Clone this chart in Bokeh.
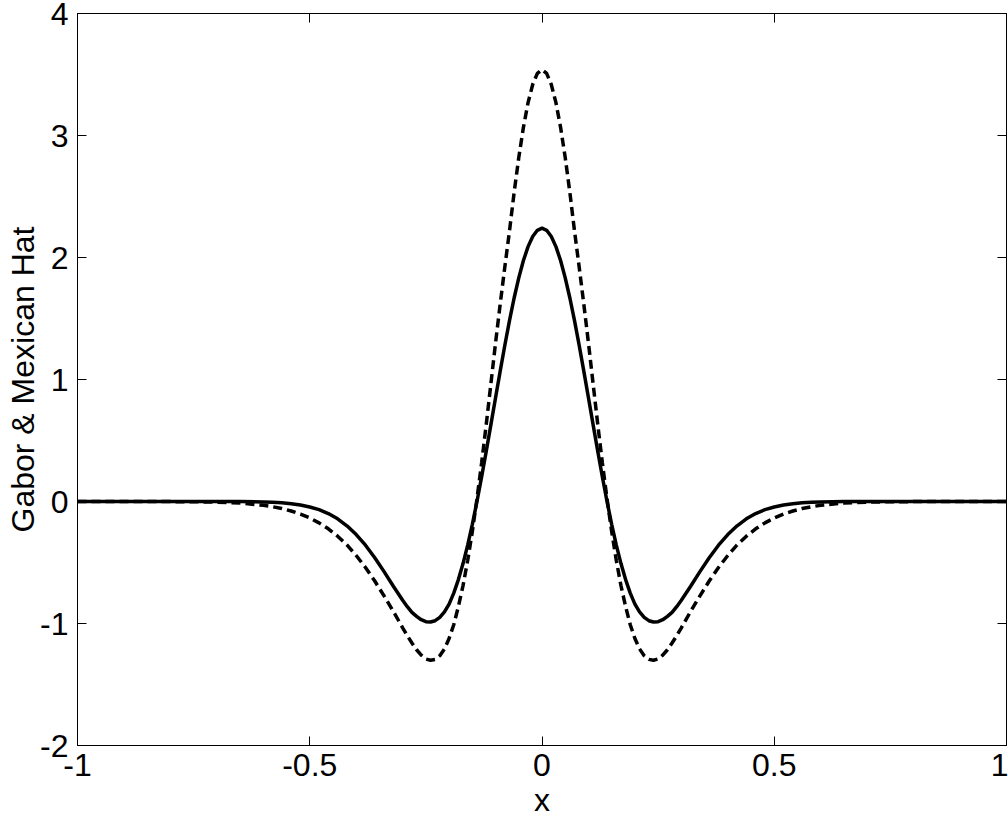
from bokeh.plotting import figure
from bokeh.models import Range1d, LinearAxis, FixedTicker
from bokeh.embed import file_html
from bokeh.resources import INLINE

# ---- data ----
x_vals = [
    -1.00, -0.90, -0.80, -0.75, -0.70, -0.65,
    -0.60, -0.58, -0.56, -0.54, -0.52, -0.50, -0.48, -0.46, -0.44, -0.42,
    -0.40, -0.38, -0.36, -0.34, -0.32,
    -0.30, -0.29, -0.28, -0.27, -0.26, -0.25, -0.24, -0.23, -0.22, -0.21,
    -0.20, -0.19, -0.18, -0.17, -0.16, -0.15, -0.14, -0.13, -0.12, -0.11,
    -0.10, -0.09, -0.08, -0.07, -0.06, -0.05, -0.04, -0.03, -0.02, -0.01,
    0.00,
    0.01, 0.02, 0.03, 0.04, 0.05, 0.06, 0.07, 0.08, 0.09, 0.10,
    0.11, 0.12, 0.13, 0.14, 0.15, 0.16, 0.17, 0.18, 0.19, 0.20,
    0.21, 0.22, 0.23, 0.24, 0.25, 0.26, 0.27, 0.28, 0.29, 0.30,
    0.32, 0.34, 0.36, 0.38, 0.40,
    0.42, 0.44, 0.46, 0.48, 0.50, 0.52, 0.54, 0.56, 0.58, 0.60,
    0.65, 0.70, 0.75, 0.80, 0.90, 1.00,
]

mexican_hat = [
    0.000, 0.000, 0.000, 0.000, 0.000, -0.001,
    -0.004, -0.007, -0.011, -0.018, -0.029, -0.045, -0.067, -0.099, -0.142, -0.199,
    -0.271, -0.358, -0.461, -0.575, -0.695,
    -0.810, -0.862, -0.909, -0.942, -0.969, -0.985, -0.988, -0.977, -0.950, -0.905,
    -0.841, -0.751, -0.640, -0.509, -0.357, -0.187, 0.000, 0.201, 0.412, 0.630,
    0.850, 1.069, 1.281, 1.483, 1.668, 1.833, 1.975, 2.089, 2.172, 2.223,
    2.240,
    2.223, 2.172, 2.089, 1.975, 1.833, 1.668, 1.483, 1.281, 1.069, 0.850,
    0.630, 0.412, 0.201, 0.000, -0.187, -0.357, -0.509, -0.640, -0.751, -0.841,
    -0.905, -0.950, -0.977, -0.988, -0.985, -0.969, -0.942, -0.909, -0.862, -0.810,
    -0.695, -0.575, -0.461, -0.358, -0.271,
    -0.199, -0.142, -0.099, -0.067, -0.045, -0.029, -0.018, -0.011, -0.007, -0.004,
    -0.001, 0.000, 0.000, 0.000, 0.000, 0.000,
]

gabor = [
    0.000, 0.000, -0.001, -0.002, -0.005, -0.013,
    -0.031, -0.043, -0.058, -0.078, -0.103, -0.135, -0.175, -0.224, -0.284, -0.356,
    -0.443, -0.541, -0.652, -0.774, -0.901,
    -1.035, -1.100, -1.160, -1.215, -1.259, -1.291, -1.301, -1.294, -1.264, -1.208,
    -1.123, -1.010, -0.861, -0.689, -0.484, -0.246, 0.022, 0.315, 0.633, 0.966,
    1.300, 1.618, 1.923, 2.217, 2.533, 2.819, 3.067, 3.269, 3.418, 3.509,
    3.540,
    3.509, 3.418, 3.269, 3.067, 2.819, 2.533, 2.217, 1.923, 1.618, 1.300,
    0.966, 0.633, 0.315, 0.022, -0.246, -0.484, -0.689, -0.861, -1.010, -1.123,
    -1.208, -1.264, -1.294, -1.301, -1.291, -1.259, -1.215, -1.160, -1.100, -1.035,
    -0.901, -0.774, -0.652, -0.541, -0.443,
    -0.356, -0.284, -0.224, -0.175, -0.135, -0.103, -0.078, -0.058, -0.043, -0.031,
    -0.013, -0.005, -0.002, -0.001, 0.000, 0.000,
]

x_ticks = [-1, -0.5, 0, 0.5, 1]
x_tick_labels = ["-1", "-0.5", "0", "0.5", "1"]
y_ticks = [-2, -1, 0, 1, 2, 3, 4]
y_tick_labels = ["-2", "-1", "0", "1", "2", "3", "4"]
x_label = "x"
y_label = "Gabor & Mexican Hat"

FONT = "Liberation Sans"
FSIZE = "32px"

p = figure(width=1008, height=820, output_backend="svg", toolbar_location=None,
           x_range=Range1d(-1, 1), y_range=Range1d(-2, 4),
           min_border_left=77, min_border_right=2, min_border_top=13,
           min_border_bottom=75)
p.background_fill_color = "white"
p.border_fill_color = "white"
p.outline_line_color = "black"
p.outline_line_width = 1
p.xgrid.visible = False
p.ygrid.visible = False

p.line(x_vals, gabor, line_color="black", line_width=3.5, line_dash="9 5")
p.line(x_vals, mexican_hat, line_color="black", line_width=3.5)


def style_axis(ax, ticks, labels):
    ax.ticker = FixedTicker(ticks=ticks, minor_ticks=[])
    ax.major_label_overrides = {t: l for t, l in zip(ticks, labels)}
    ax.major_tick_in = 9
    ax.major_tick_out = 0
    ax.minor_tick_in = 0
    ax.minor_tick_out = 0
    ax.major_tick_line_color = "black"
    ax.major_tick_line_width = 1
    ax.axis_line_color = "black"
    ax.axis_line_width = 1
    ax.major_label_text_font = FONT
    ax.major_label_text_font_size = FSIZE
    ax.major_label_text_color = "black"
    ax.axis_label_text_font = FONT
    ax.axis_label_text_font_size = FSIZE
    ax.axis_label_text_font_style = "normal"
    ax.axis_label_text_color = "black"


xa = p.xaxis[0]
ya = p.yaxis[0]
style_axis(xa, x_ticks, x_tick_labels)
style_axis(ya, y_ticks, y_tick_labels)
xa.axis_label = x_label
ya.axis_label = y_label
xa.major_label_standoff = 8
xa.axis_label_standoff = 3
ya.major_label_standoff = 9
ya.axis_label_standoff = -4

top = LinearAxis()
right = LinearAxis()
style_axis(top, x_ticks, ["" for _ in x_ticks])
style_axis(right, y_ticks, ["" for _ in y_ticks])
for ax in (top, right):
    ax.major_label_text_font_size = "1px"
    ax.major_label_standoff = 0
p.add_layout(top, "above")
p.add_layout(right, "right")

open("out.html", "w").write(file_html(p, INLINE))
